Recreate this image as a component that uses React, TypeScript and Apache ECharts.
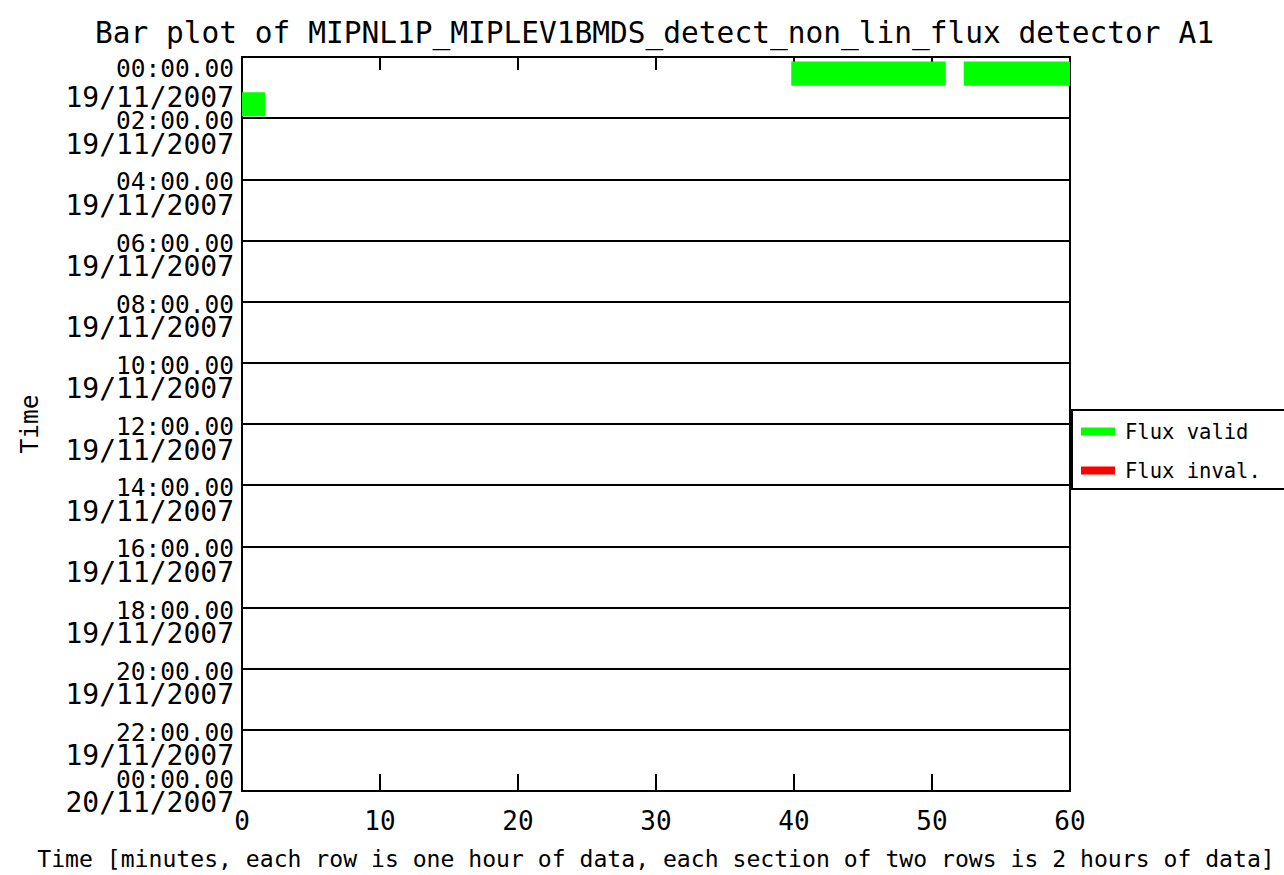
import React, { useEffect, useRef } from "react";
import * as echarts from "echarts";

const TITLE = "Bar plot of MIPNL1P_MIPLEV1BMDS_detect_non_lin_flux detector A1";
const X_NAME = "Time [minutes, each row is one hour of data, each section of two rows is 2 hours of data]";
const Y_NAME = "Time";
const SERIES_NAMES = ["Flux valid", "Flux inval."];
const SERIES_COLORS = ["#00ff00", "#ff0000"];

// hour rows: 0 = 00:00-01:00 on 19/11/2007, ...
const validStart = [39.8, 52.3, 0];
const validEnd = [51.0, 60, 1.67];
const validHour = [0, 0, 1];

const invalidStart: number[] = [];
const invalidEnd: number[] = [];
const invalidHour: number[] = [];

const tickHours = [0, 2, 4, 6, 8, 10, 12, 14, 16, 18, 20, 22, 24];
const tickTimes = ["00:00.00", "02:00.00", "04:00.00", "06:00.00", "08:00.00", "10:00.00", "12:00.00", "14:00.00", "16:00.00", "18:00.00", "20:00.00", "22:00.00", "00:00.00"];
const tickDates = ["19/11/2007", "19/11/2007", "19/11/2007", "19/11/2007", "19/11/2007", "19/11/2007", "19/11/2007", "19/11/2007", "19/11/2007", "19/11/2007", "19/11/2007", "19/11/2007", "20/11/2007"];

const FONT = "DejaVu Sans Mono";
const BAR_TOP = 0.15;
const BAR_BOTTOM = 0.94;

function zip(s: number[], e: number[], h: number[]) {
  return s.map((v, i) => [v, e[i], h[i]]);
}

export default function App() {
  const ref = useRef<HTMLDivElement>(null);
  useEffect(() => {
    if (!ref.current) return;
    const chart = echarts.init(ref.current, undefined, { renderer: "svg" });
    const renderItem = (color: string) => (params: any, api: any) => {
      const s = api.value(0);
      const e = api.value(1);
      const h = api.value(2);
      const p1 = api.coord([s, h + BAR_TOP]);
      const p2 = api.coord([e, h + BAR_BOTTOM]);
      return {
        type: "rect",
        shape: { x: p1[0], y: p1[1], width: p2[0] - p1[0], height: p2[1] - p1[1] },
        style: { fill: color },
      };
    };
    const lastIdx = tickHours.length - 1;
    chart.setOption({
      animation: false,
      backgroundColor: "#ffffff",
      title: {
        text: TITLE,
        left: 95,
        top: 18,
        padding: 0,
        textStyle: { fontFamily: FONT, fontSize: 29.5, fontWeight: "normal", color: "#000", lineHeight: 30 },
      },
      grid: {
        left: 242,
        right: 214,
        top: 57,
        bottom: 83,
        show: true,
        borderColor: "#000",
        borderWidth: 2,
        backgroundColor: "transparent",
      },
      legend: {
        orient: "vertical",
        left: 1081,
        top: 421,
        padding: 0,
        itemGap: 18,
        itemWidth: 34,
        itemHeight: 8,
        icon: "rect",
        data: SERIES_NAMES,
        textStyle: { fontFamily: FONT, fontSize: 20.5, color: "#000", lineHeight: 20, padding: [0, 0, 0, 5] },
      },
      graphic: [
        {
          type: "rect",
          shape: { x: 1072, y: 410, width: 240, height: 79 },
          style: { fill: "none", stroke: "#000", lineWidth: 2 },
        },
      ],
      xAxis: [
        {
          type: "value",
          min: 0,
          max: 60,
          interval: 10,
          position: "bottom",
          name: X_NAME,
          nameLocation: "middle",
          nameGap: 56,
          nameTextStyle: { fontFamily: FONT, fontSize: 23.1, color: "#000" },
          axisLine: { show: true, onZero: false, lineStyle: { color: "#000", width: 2 } },
          axisTick: { show: true, inside: true, length: 17, lineStyle: { color: "#000", width: 2 } },
          axisLabel: { fontFamily: FONT, fontSize: 26, color: "#000", margin: 17 },
          splitLine: { show: false },
        },
        {
          type: "value",
          min: 0,
          max: 60,
          interval: 10,
          position: "top",
          axisLine: { show: true, onZero: false, lineStyle: { color: "#000", width: 2 } },
          axisTick: { show: true, inside: true, length: 13, lineStyle: { color: "#000", width: 2 } },
          axisLabel: { show: false },
          splitLine: { show: false },
        },
      ],
      yAxis: [
        {
          type: "value",
          min: 0,
          max: 24,
          interval: 2,
          inverse: true,
          position: "left",
          name: Y_NAME,
          nameLocation: "middle",
          nameGap: 200,
          nameTextStyle: { fontFamily: FONT, fontSize: 24.5, color: "#000" },
          axisLine: { show: true, onZero: false, lineStyle: { color: "#000", width: 2 } },
          axisTick: { show: false },
          splitLine: { show: true, lineStyle: { color: "#000", width: 2 } },
          axisLabel: {
            margin: 8,
            color: "#000",
            fontFamily: FONT,
            showMinLabel: true,
            showMaxLabel: true,
            formatter: (value: number) => {
              const i = tickHours.indexOf(value);
              if (i < 0) return "";
              if (i === 0) return `{t0|${tickTimes[i]}}`;
              if (i === lastIdx) return `{tl|${tickTimes[i]}}\n{dl|${tickDates[i]}}`;
              return `{t|${tickTimes[i]}}`;
            },
            rich: {
              t0: { fontSize: 24.5, lineHeight: 24, fontFamily: FONT, color: "#000", padding: [22, 0, 0, 0] },
              t: { fontSize: 24.5, lineHeight: 24, fontFamily: FONT, color: "#000", padding: [5, 0, 0, 0] },
              tl: { fontSize: 24.5, lineHeight: 23, fontFamily: FONT, color: "#000", align: "right" },
              dl: { fontSize: 28, lineHeight: 23, fontFamily: FONT, color: "#000", align: "right" },
            },
          },
        },
        {
          type: "value",
          min: 0,
          max: 24,
          interval: 1,
          inverse: true,
          position: "left",
          axisLine: { show: false, onZero: false },
          axisTick: { show: false },
          splitLine: { show: false },
          axisLabel: {
            margin: 8,
            color: "#000",
            fontFamily: FONT,
            showMinLabel: false,
            showMaxLabel: false,
            formatter: (value: number) => {
              if (value % 2 !== 1) return "";
              const i = (value - 1) / 2;
              if (value === 1) return `{d1|${tickDates[i]}}`;
              return `{d|${tickDates[i]}}`;
            },
            rich: {
              d1: { fontSize: 28, lineHeight: 24, fontFamily: FONT, color: "#000", padding: [19, 0, 0, 0] },
              d: { fontSize: 28, lineHeight: 24, fontFamily: FONT, color: "#000", padding: [0, 0, 9, 0] },
            },
          },
        },
      ],
      series: [
        {
          name: SERIES_NAMES[0],
          type: "custom",
          xAxisIndex: 0,
          yAxisIndex: 0,
          itemStyle: { color: SERIES_COLORS[0] },
          encode: { x: [0, 1], y: 2 },
          renderItem: renderItem(SERIES_COLORS[0]),
          data: zip(validStart, validEnd, validHour),
        },
        {
          name: SERIES_NAMES[1],
          type: "custom",
          xAxisIndex: 0,
          yAxisIndex: 0,
          itemStyle: { color: SERIES_COLORS[1] },
          encode: { x: [0, 1], y: 2 },
          renderItem: renderItem(SERIES_COLORS[1]),
          data: zip(invalidStart, invalidEnd, invalidHour),
        },
      ],
    });
    return () => chart.dispose();
  }, []);
  return (
    <div
      ref={ref}
      style={{ position: "absolute", left: 0, top: 0, width: 1284, height: 875 }}
    />
  );
}
